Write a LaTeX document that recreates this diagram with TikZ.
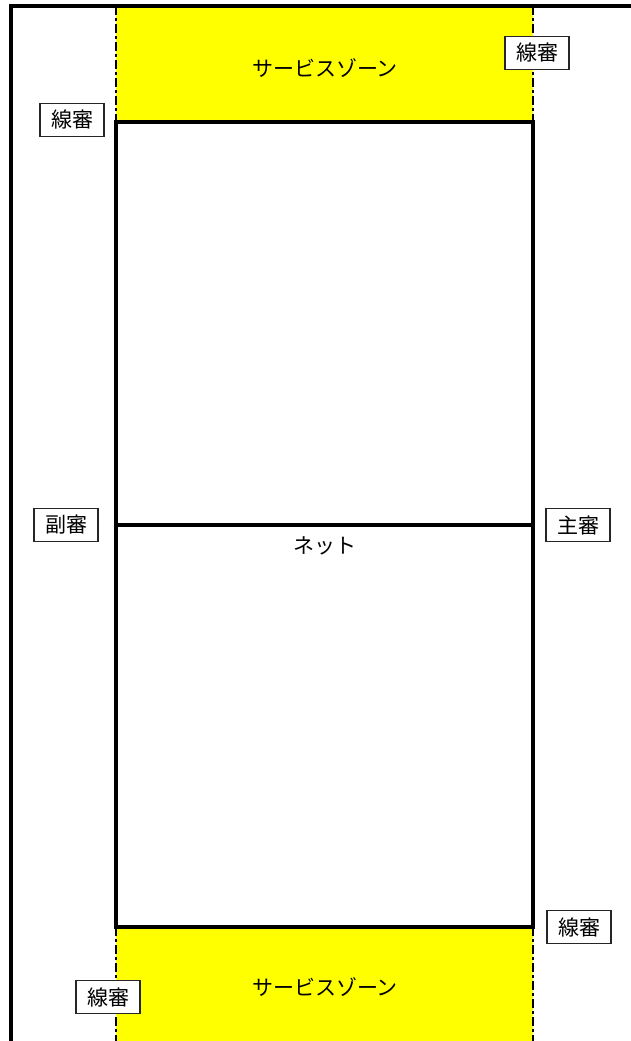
\documentclass[tikz,border=0pt]{standalone}
\usepackage{fontspec}
\setmainfont{Noto Sans CJK JP}
\usepackage{tikz}
\definecolor{zoneyellow}{RGB}{255,255,0}
\tikzstyle{referee} = [rectangle, draw=black!85, line width=1.2pt, fill=white, minimum width=64pt, minimum height=33pt, inner sep=0pt, font=\fontsize{21}{21}\selectfont]
\tikzstyle{zonetext} = [font=\fontsize{21}{21}\selectfont]
\tikzstyle{zone} = [fill=zoneyellow]
\tikzstyle{courtline} = [line width=3.2pt]
\tikzstyle{sideline} = [line width=2.4pt, dash pattern=on 9pt off 3pt on 3pt off 3pt]

\begin{document}
\begin{tikzpicture}[x=1pt,y=-1pt]
\useasboundingbox (0,0) rectangle (631,1041);

% service zones
\fill [zone] (116,6) rectangle (533,122);
\fill [zone] (116,927) rectangle (533,1041);
\draw [sideline] (116,6) -- (116,122);
\draw [sideline] (533,6) -- (533,122);
\draw [sideline] (116,927) -- (116,1041);
\draw [sideline] (533,927) -- (533,1041);

% hall and court
\draw [courtline] (11,1041) -- (11,6) -- (631,6);
\draw [courtline] (116,122) rectangle (533,927);
\draw [courtline] (116,525) -- (533,525);

\node (zonetop) [zonetext] at (325,68) {サービスゾーン};
\node (zonebottom) [zonetext] at (325,987) {サービスゾーン};
\node (net) [zonetext] at (325,546) {ネット};

\node (linetl) [referee] at (72,120) {線審};
\node (linetr) [referee] at (537,53) {線審};
\node (second) [referee] at (66,525) {副審};
\node (first) [referee] at (578,525) {主審};
\node (linebr) [referee] at (579,927) {線審};
\node (linebl) [referee] at (108,997) {線審};

\end{tikzpicture}
\end{document}
